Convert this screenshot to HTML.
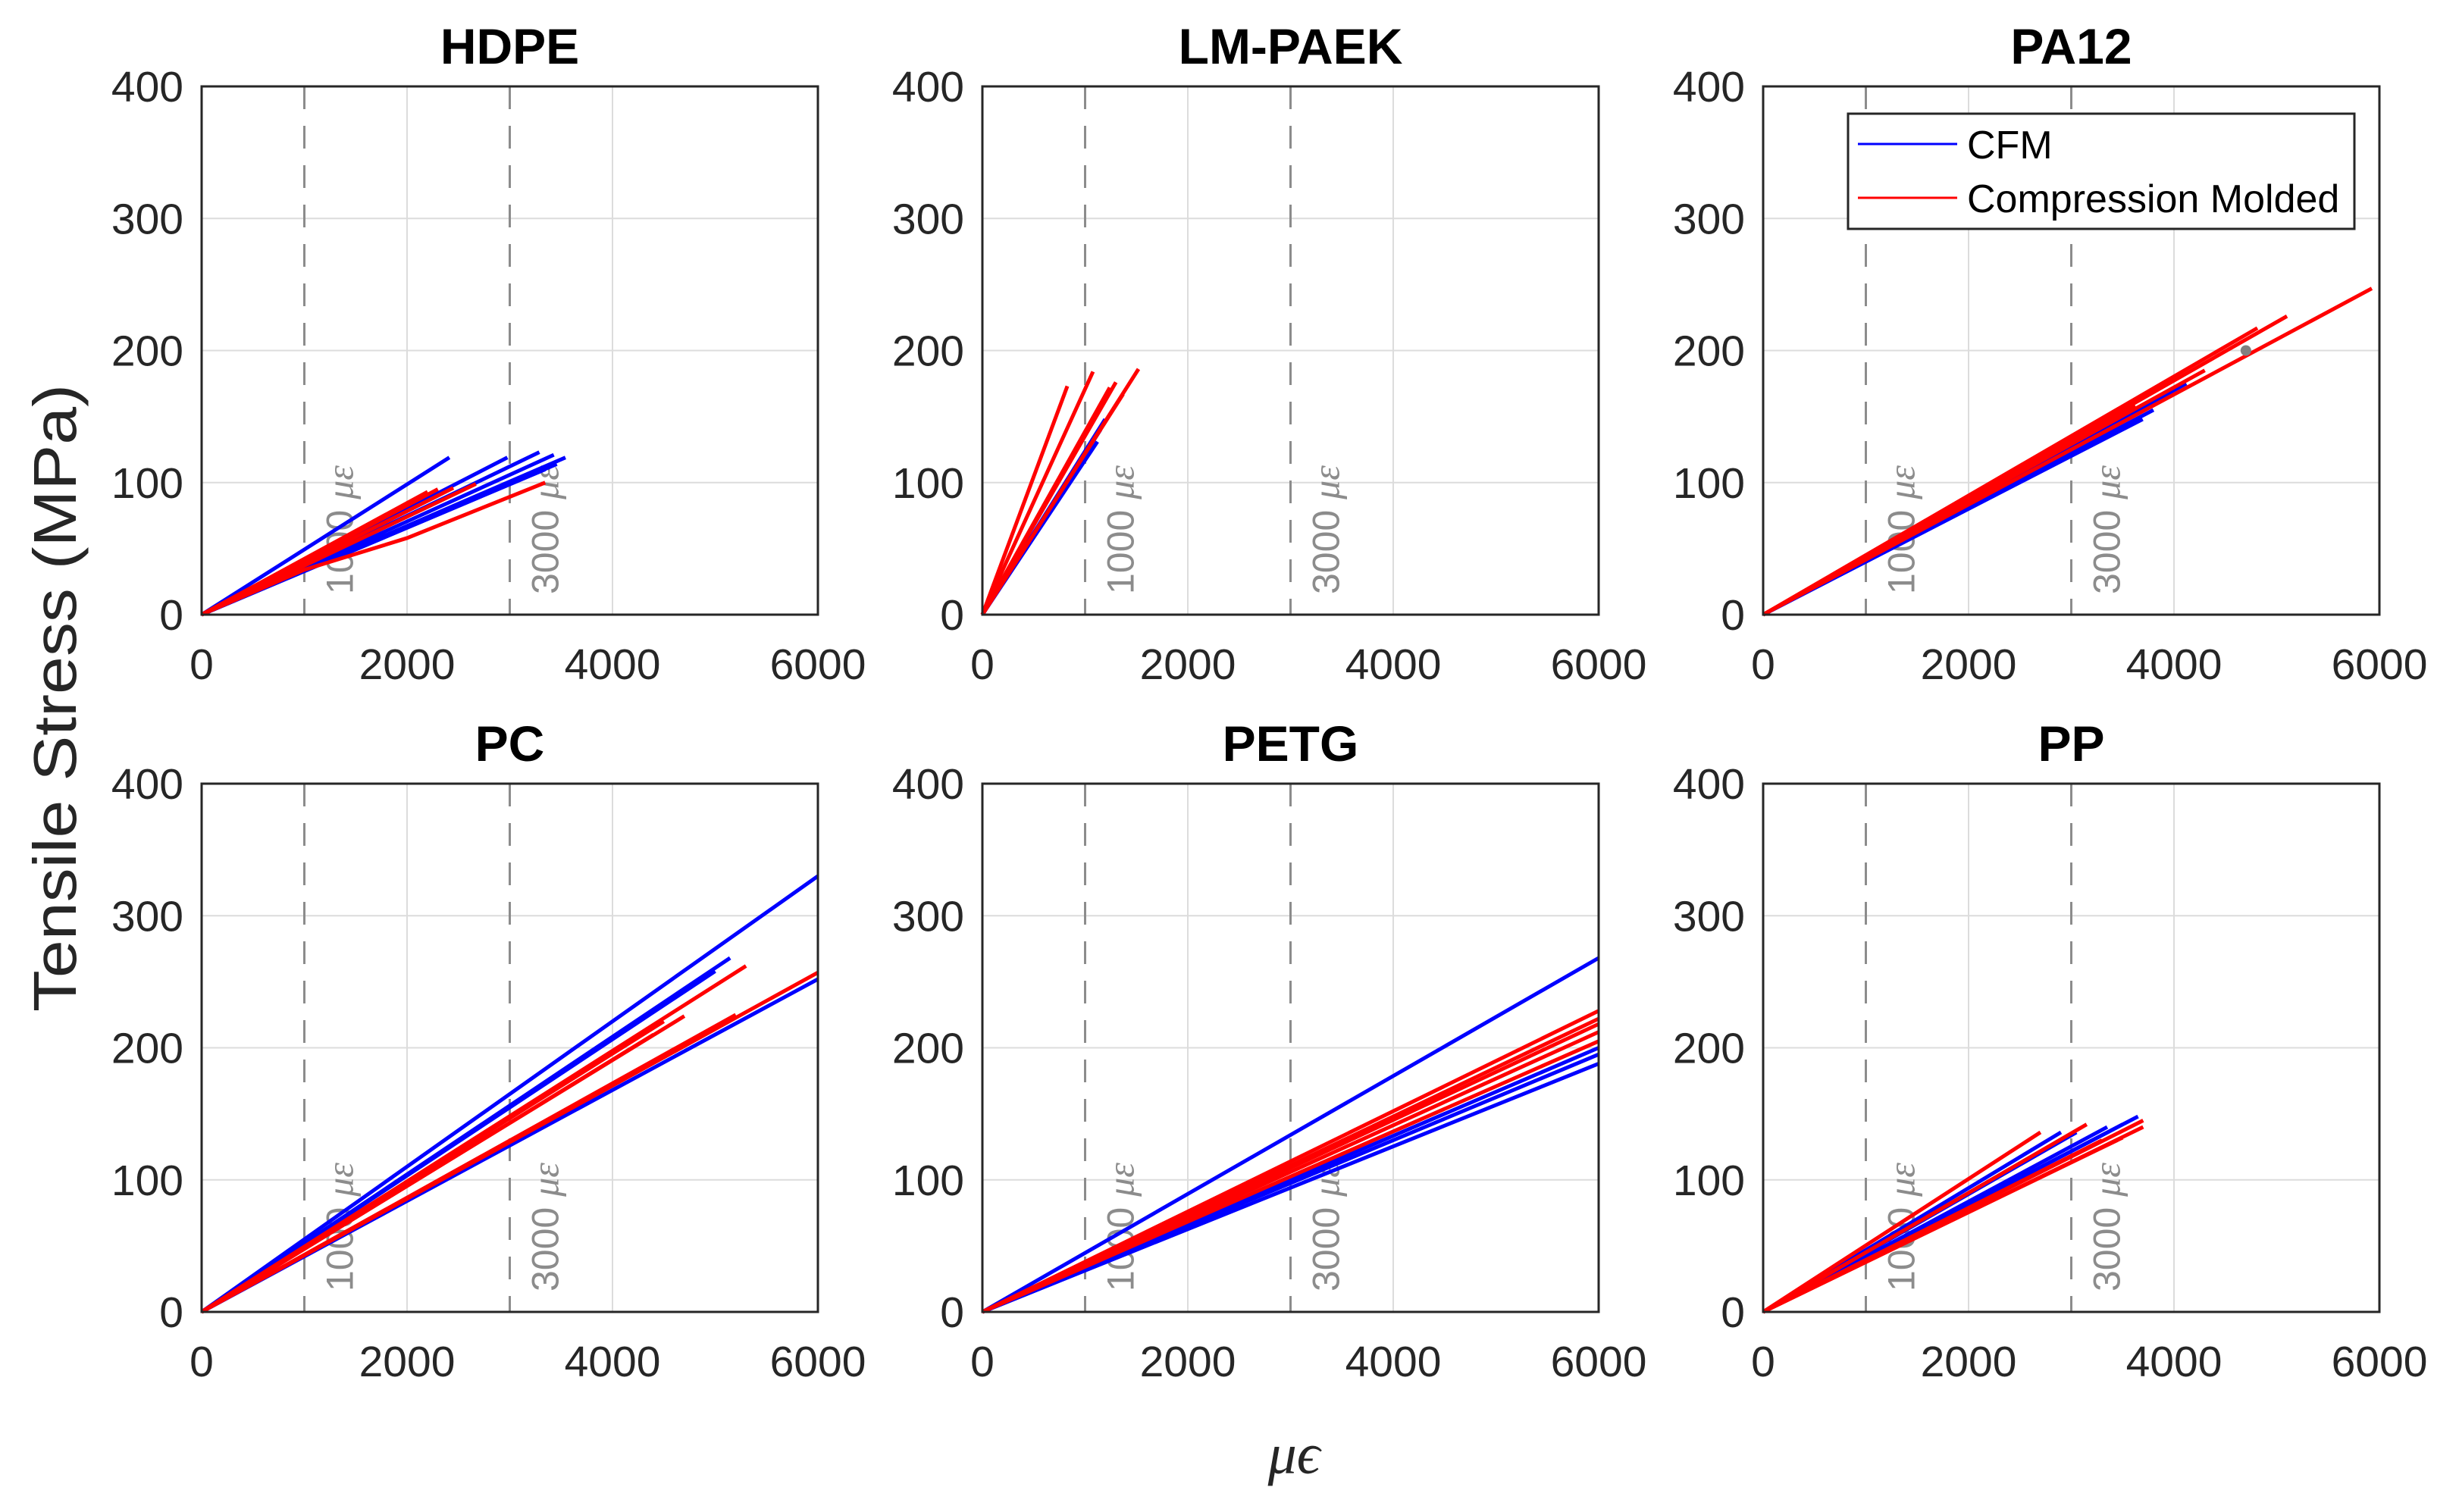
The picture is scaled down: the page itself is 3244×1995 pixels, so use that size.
<!DOCTYPE html>
<html><head><meta charset="utf-8"><style>
html,body{margin:0;padding:0;background:#fff}
svg{display:block}
text{font-family:"Liberation Sans",sans-serif}
</style></head><body>
<svg id="fig" width="3244" height="1995" viewBox="0 0 3244 1995" xmlns="http://www.w3.org/2000/svg">
<rect x="0" y="0" width="3244" height="1995" fill="#fff"/>
<text transform="translate(100,921) rotate(-90)" text-anchor="middle" font-size="80" fill="#262626" textLength="828" lengthAdjust="spacingAndGlyphs">Tensile Stress (MPa)</text>
<text x="1707" y="1944" text-anchor="middle" font-size="76" font-style="italic" fill="#262626" style="font-family:'Liberation Serif','DejaVu Serif',serif">μϵ</text>
<g id="panels"></g>
</svg>
<script>
const xTicks = [0, 2000, 4000, 6000];
const yTicks = [0, 100, 200, 300, 400];
const gridX = [0, 1000, 2000, 3000, 4000, 5000, 6000];
const refStrains = [1000, 3000];
const panelNames = ["HDPE", "LM-PAEK", "PA12", "PC", "PETG", "PP"];

const hdpeCfm = [[[0,0],[2412,119]],[[0,0],[2977,119]],[[0,0],[3288,123]],[[0,0],[3429,121]],[[0,0],[3542,119]],[[0,0],[3458,114]],[[0,0],[3345,110]],[[0,0],[3175,106]]];
const hdpeCm = [[[0,0],[2200,93]],[[0,0],[2300,95]],[[0,0],[2450,96]],[[0,0],[2670,99]],[[0,0],[2100,88]],[[0,0],[1000,34],[2000,58],[3345,100]]];
const paekCfm = [[[0,0],[1195,148]],[[0,0],[1120,131]],[[0,0],[1150,140]]];
const paekCm = [[[0,0],[827,173]],[[0,0],[1077,184]],[[0,0],[1300,176]],[[0,0],[1520,186]],[[0,0],[1370,167]],[[0,0],[1240,172]]];
const pa12Cfm = [[[0,0],[4120,175]],[[0,0],[3695,148]],[[0,0],[3800,155]]];
const pa12Cm = [[[0,0],[5926,247]],[[0,0],[5100,226]],[[0,0],[4812,217]],[[0,0],[3625,158]],[[0,0],[4300,185]]];
const pcCfm = [[[0,0],[6000,330]],[[0,0],[5145,268]],[[0,0],[6000,252]],[[0,0],[5000,258]]];
const pcCm = [[[0,0],[5300,262]],[[0,0],[4500,220]],[[0,0],[6000,257]],[[0,0],[4400,210]],[[0,0],[4700,224]],[[0,0],[5200,225]]];
const petgCfm = [[[0,0],[6000,268]],[[0,0],[6000,188]],[[0,0],[6000,195]],[[0,0],[6000,200]]];
const petgCm = [[[0,0],[6000,228]],[[0,0],[6000,222]],[[0,0],[6000,212]],[[0,0],[6000,205]],[[0,0],[6000,218]]];
const ppCfm = [[[0,0],[3650,148]],[[0,0],[3500,142]],[[0,0],[3350,140]],[[0,0],[3050,136]],[[0,0],[2900,136]]];
const ppCm = [[[0,0],[2700,136]],[[0,0],[3150,142]],[[0,0],[3700,145]],[[0,0],[3700,140]],[[0,0],[3500,132]],[[0,0],[3300,130]]];
const pa12Marker = [4700, 200];

const cfmSets = [hdpeCfm, paekCfm, pa12Cfm, pcCfm, petgCfm, ppCfm];
const cmSets = [hdpeCm, paekCm, pa12Cm, pcCm, petgCm, ppCm];

const NS = "http://www.w3.org/2000/svg";
const colX = [266, 1296, 2326], rowY = [114, 1034], W = 813, H = 697;
const XMAX = 6000, YMAX = 400;
function mk(tag, attrs, parent) {
  const e = document.createElementNS(NS, tag);
  for (const k in attrs) e.setAttribute(k, attrs[k]);
  parent.appendChild(e);
  return e;
}
const root = document.getElementById("panels");
panelNames.forEach((name, i) => {
  const L = colX[i % 3], T = rowY[Math.floor(i / 3)];
  const sx = v => L + v / XMAX * W;
  const sy = v => T + H - v / YMAX * H;
  const g = mk("g", {}, root);
  
  
  gridX.forEach(v => { if (v > 0 && v < XMAX && v % 2000 === 0) {
    const l = mk("line", {x1: sx(v), x2: sx(v), y1: T, y2: T + H, stroke: "#dcdcdc", "stroke-width": 2}, g);
    
    
  }});
  yTicks.forEach(v => { if (v > 0 && v < YMAX) {
    const l = mk("line", {x1: L, x2: L + W, y1: sy(v), y2: sy(v), stroke: "#dcdcdc", "stroke-width": 2}, g);
    
    
  }});
  refStrains.forEach(v => {
    const l = mk("line", {x1: sx(v), x2: sx(v), y1: T, y2: T + H, stroke: "#8c8c8c", "stroke-width": 3, "stroke-dasharray": "30 22"}, g);
    
    
    const t = mk("text", {transform: `translate(${sx(v) + 64},${T + H - 27}) rotate(-90)`, "font-size": 50, fill: "#8c8c8c"}, g);
    
    
    t.appendChild(document.createTextNode(v + " "));
    const ts = mk("tspan", {"font-style": "italic", style: "font-family:'Liberation Serif','DejaVu Serif',serif"}, t);
    ts.textContent = "με";
  });
  const draw = (set, color, label) => set.forEach(c => {
    const p = mk("polyline", {points: c.map(pt => sx(pt[0]) + "," + sy(pt[1])).join(" "), fill: "none", stroke: color, "stroke-width": 5, "stroke-linejoin": "round"}, g);
    
    
  });
  draw(cfmSets[i], "#0000ff", "cfm");
  draw(cmSets[i], "#ff0000", "compression-molded");
  if (name === "PA12") {
    const m = mk("circle", {cx: sx(pa12Marker[0]), cy: sy(pa12Marker[1]), r: 7, fill: "#808080"}, g);
    
    
  }
  const box = mk("rect", {x: L, y: T, width: W, height: H, fill: "none", stroke: "#262626", "stroke-width": 3}, g);
  
  
  xTicks.forEach(v => {
    const t = mk("text", {x: sx(v), y: T + H + 85, "text-anchor": "middle", "font-size": 57, fill: "#262626"}, g);
    
    
    t.textContent = v;
  });
  yTicks.forEach(v => {
    const t = mk("text", {x: L - 24, y: sy(v) + 20, "text-anchor": "end", "font-size": 57, fill: "#262626"}, g);
    
    
    t.textContent = v;
  });
  const title = mk("text", {x: L + W / 2, y: T - 30, "text-anchor": "middle", "font-size": 66, "font-weight": "bold", fill: "#000"}, g);
  
  
  title.textContent = name;
  if (name === "PA12") {
    const lg = mk("g", {}, g);
    
    
    mk("rect", {x: 2438, y: 150, width: 668, height: 152, fill: "#fff", stroke: "#262626", "stroke-width": 3}, lg);
    [["CFM", "#0000ff", 190], ["Compression Molded", "#ff0000", 261]].forEach(e => {
      const eg = mk("g", {}, lg);
      
      
      mk("line", {x1: 2451, x2: 2582, y1: e[2], y2: e[2], stroke: e[1], "stroke-width": 3}, eg);
      const t = mk("text", {x: 2595, y: e[2] + 19, "font-size": 52, fill: "#000"}, eg);
      t.textContent = e[0];
    });
  }
});
</script>
</body></html>
